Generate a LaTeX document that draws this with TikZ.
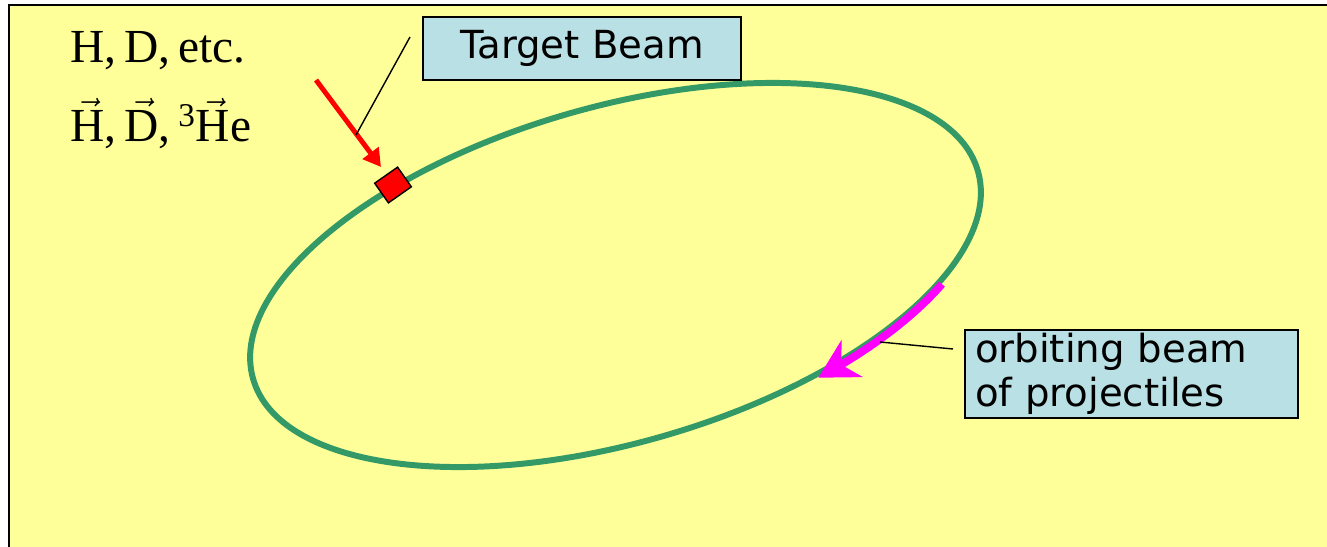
\documentclass[tikz,border=0pt]{standalone}
\usepackage{fontspec}
\setmainfont{Liberation Serif}
\newfontfamily\labelfont{DejaVu Sans}
\usetikzlibrary{arrows.meta,bending,positioning}
\definecolor{bgyellow}{HTML}{FFFF99}
\definecolor{boxblue}{HTML}{B9E0E5}
\definecolor{ringgreen}{HTML}{339966}
\definecolor{beampink}{HTML}{FF00FF}

\begin{document}
\begin{tikzpicture}[x=0.02cm, y=-0.02cm,
  labelbox/.style={draw, line width=0.8pt, fill=boxblue, inner sep=0pt,
    font=\labelfont\fontsize{22}{25}\selectfont},
  pointer/.style={draw, line width=0.8pt},
  ring/.style={draw=ringgreen, line width=3.4pt},
  species/.style={anchor=base west, inner sep=0pt, font=\fontsize{27}{30}\selectfont}]
  \useasboundingbox (0,0) rectangle (1327,547);
  \fill[bgyellow] (9,5) rectangle (1327,547);
  \draw[line width=1pt] (9,547) -- (9,5) -- (1327,5);

  % storage ring
  \draw[ring, rotate around={16:(615.5,275)}] (615.5,275) ellipse [x radius=377, y radius=168];

  % circulating beam
  \begin{scope}[shift={(615.5,275)}, rotate=16]
    \draw[beampink, line width=4.5pt, -{Stealth[length=22pt, width=24pt, inset=7pt]}]
      (311.3,98.7) arc [start angle=35, end angle=64, x radius=380, y radius=172];
  \end{scope}

  % target cell and gas inlet
  \node[draw, fill=red, line width=0.8pt, inner sep=0pt, minimum width=0.56cm,
    minimum height=0.48cm, rotate=35] (cell) at (393,185) {};
  \coordinate (jet) at (316,80);
  \coordinate (jetend) at (381,167);
  \draw[red, line width=2.8pt, -{Triangle[length=10pt, width=11pt]}] (jet) -- (jetend);

  % labels
  \node[labelbox, minimum width=6.36cm, minimum height=1.26cm] (tgt) at (582,48.5) {Target Beam};
  \node[labelbox, minimum width=6.66cm, minimum height=1.76cm, align=left,
    text width=6.26cm] (orb) at (1131.5,374) {orbiting beam\\of projectiles};

  \coordinate (tgtline) at (410,37);
  \coordinate (tgtlineend) at (356,135);
  \draw[pointer] (tgtline) -- (tgtlineend);
  \coordinate (orbline) at (953,349);
  \coordinate (orblineend) at (880,342);
  \draw[pointer] (orbline) -- (orblineend);

  \node[species] (plain) at (70,63) {H,\,D,\,etc.};
  \node[species] (polar) at (70,142)
    {$\vec{\mathrm{H}}$,\,$\vec{\mathrm{D}}$,\,\textsuperscript{3}$\vec{\mathrm{H}}$e};
\end{tikzpicture}
\end{document}
